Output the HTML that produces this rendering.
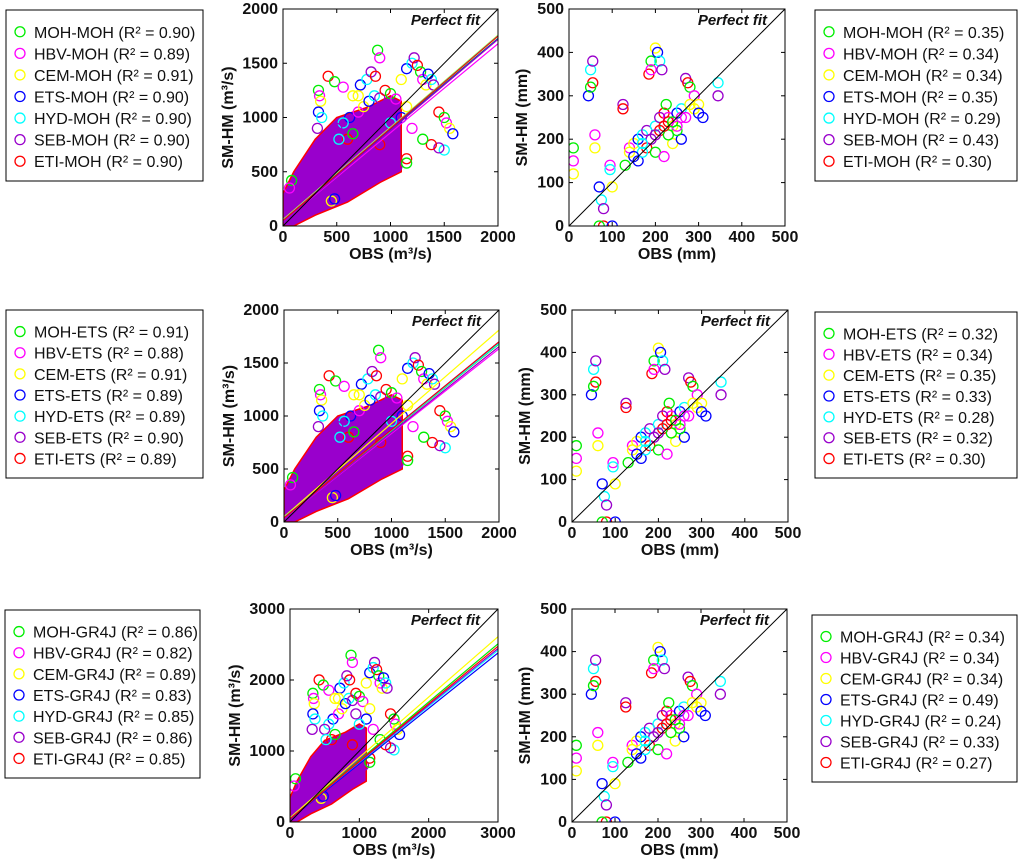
<!DOCTYPE html>
<html><head><meta charset="utf-8">
<style>
body{margin:0;background:#fff;}
svg{display:block;font-family:"Liberation Sans",Arial,sans-serif;}
.t{font-size:16px;font-weight:bold;fill:#111;}
.lg{font-size:16px;fill:#111;}
</style></head>
<body>
<svg id="fig" width="1024" height="867" viewBox="0 0 1024 867"></svg>
<script>
const colors=['#00ee00','#ff00ff','#ffff00','#0000ff','#00ffff','#9900cc','#ff0000'];
const models=['MOH','HBV','CEM','ETS','HYD','SEB','ETI'];
const refs=['MOH','ETS','GR4J'];
const r2Flow=[[0.90,0.89,0.91,0.90,0.90,0.90,0.90],[0.91,0.88,0.91,0.89,0.89,0.90,0.89],[0.86,0.82,0.89,0.83,0.85,0.86,0.85]];
const r2Depth=[[0.35,0.34,0.34,0.35,0.29,0.43,0.30],[0.32,0.34,0.35,0.33,0.28,0.32,0.30],[0.34,0.34,0.34,0.49,0.24,0.33,0.27]];
const flowMax=[2000,2000,3000];
const flowTicks=[[0,500,1000,1500,2000],[0,500,1000,1500,2000],[0,1000,2000,3000]];
const depthTicks=[0,100,200,300,400,500];
const fitSlope=[[0.84,0.82,0.85,0.84,0.85,0.84,0.85],[0.82,0.80,0.88,0.83,0.82,0.81,0.83],[0.82,0.80,0.85,0.78,0.79,0.80,0.81]];
const fitInt=[[50,40,60,45,55,40,50],[40,35,50,40,45,35,40],[50,40,60,40,50,45,45]];
const cloudX=[0,0,100,300,500,800,1000,1100,1100,900,600,300,100];
const cloudY=[0,300,500,800,1000,1100,1200,1150,500,400,220,100,0];
const flowX=[330,340,350,330,360,320,420,480,560,650,720,780,820,860,880,900,700,620,560,500,600,650,700,750,800,850,900,950,1000,1050,1100,1150,1200,1220,1250,1280,1300,1330,1350,1380,1400,1450,1500,1520,1550,1580,1500,1450,1380,1300,1200,1150,1100,1000,950,900,80,60,450,480,520,1060,1150,1150];
const flowY=[1250,1200,1150,1050,1000,900,1380,1330,1280,1200,1300,1350,1420,1380,1620,1550,1200,1000,950,900,800,850,1050,1100,1150,1200,1180,1250,1220,1170,1350,1450,1500,1550,1480,1420,1350,1300,1400,1350,1300,1050,1000,950,900,850,700,720,750,800,900,1100,1000,950,1050,750,420,350,230,250,800,550,620,580];
const depX=[10,10,10,45,50,55,55,50,60,60,70,75,80,80,70,95,100,100,95,125,125,130,140,150,160,170,180,185,190,190,200,205,210,215,220,225,230,240,250,260,270,275,280,290,300,310,345,345,180,200,220,240,260,200,210,230,250,270,290,160,170,190,210,230,250,140,150,170,200,220,240,260,280,300];
const depY=[180,150,120,300,360,380,330,320,210,180,90,60,40,0,0,140,90,0,130,280,270,140,180,190,200,210,220,350,380,360,410,400,380,360,260,280,250,230,260,270,340,330,320,300,280,250,330,300,180,170,160,190,200,230,250,240,220,250,270,150,170,200,220,210,230,170,160,190,210,230,240,250,280,260];

const NS='http://www.w3.org/2000/svg';
const svg=document.getElementById('fig');
function el(tag,attrs,parent,txt){const e=document.createElementNS(NS,tag);for(const k in attrs)e.setAttribute(k,attrs[k]);if(txt!==undefined)e.textContent=txt;(parent||svg).appendChild(e);return e;}

function panel(row,kind,px,py,pw,ph){
  const g=el('g',{});
  
  
  const xmax=kind==='flow'?flowMax[row]:500, ymax=xmax;
  const sx=v=>px+v/xmax*pw, sy=v=>py+ph-v/ymax*ph;
  const clip='c'+kind+row;
  const d=el('defs',{},g);const cp=el('clipPath',{id:clip},d);el('rect',{x:px,y:py,width:pw,height:ph},cp);
  const pg=el('g',{'clip-path':'url(#'+clip+')'},g);
  if(kind==='flow'){
    const cy=row===2?1.15:1, oy=row===2?1.45:1;
    let pts=cloudX.map((x,i)=>sx(x)+','+sy(cloudY[i]*cy)).join(' ');
    const poly=el('polygon',{points:pts,fill:'#9900cc',stroke:'#ff0000','stroke-width':1.5},pg);
    
    
    flowX.forEach((x,i)=>{
      const c=el('circle',{cx:sx(x),cy:sy(flowY[i]*oy),r:5,fill:'none',stroke:colors[i%7],'stroke-width':1.3},pg);
      
      
    });
  } else {
    depX.forEach((x,i)=>{
      const c=el('circle',{cx:sx(x),cy:sy(depY[i]),r:5,fill:'none',stroke:colors[i%7],'stroke-width':1.3},pg);
      
      
    });
  }
  if(kind==='flow'){
    fitSlope[row].forEach((s,i)=>{
      const b=fitInt[row][i];
      const l=el('line',{x1:sx(0),y1:sy(b),x2:sx(xmax),y2:sy(b+s*xmax),stroke:colors[i],'stroke-width':1.2},pg);
      
      
    });
  }
  const pf=el('line',{x1:sx(0),y1:sy(0),x2:sx(xmax),y2:sy(ymax),stroke:'#000','stroke-width':1},g);
  
  
  const fr=el('rect',{x:px,y:py,width:pw,height:ph,fill:'none',stroke:'#000','stroke-width':1},g);
  
  
  const pt=el('text',{x:px+pw-18,y:py+16,'text-anchor':'end','font-size':15,'font-weight':'bold','font-style':'italic',fill:'#111'},g,'Perfect fit');
  
  
  const ticks=kind==='flow'?flowTicks[row]:depthTicks;
  ticks.forEach(t=>{
    el('line',{x1:sx(t),y1:py+ph,x2:sx(t),y2:py+ph-4,stroke:'#000'},g);
    el('line',{x1:sx(t),y1:py,x2:sx(t),y2:py+4,stroke:'#000'},g);
    el('line',{x1:px,y1:sy(t),x2:px+4,y2:sy(t),stroke:'#000'},g);
    el('line',{x1:px+pw,y1:sy(t),x2:px+pw-4,y2:sy(t),stroke:'#000'},g);
    const xt=el('text',{x:sx(t),y:py+ph+16,'text-anchor':'middle',class:'t'},g,t);
    
    
    const yt=el('text',{x:px-5,y:sy(t)+5,'text-anchor':'end',class:'t'},g,t);
    
    
  });
  const unit=kind==='flow'?'(m³/s)':'(mm)';
  const xl=el('text',{x:px+pw/2,y:py+ph+33,'text-anchor':'middle',class:'t'},g,'OBS '+unit);
  
  
  const yx=px-(kind==='flow'?50:42), yy=py+ph/2;
  const yl=el('text',{x:yx,y:yy,'text-anchor':'middle',class:'t',transform:'rotate(-90 '+yx+' '+yy+')'},g,'SM-HM '+unit);
  
  
}

function legend(row,kind,lx,ly,lw,lh){
  const g=el('g',{});
  
  
  el('rect',{x:lx,y:ly,width:lw,height:lh,fill:'#fff',stroke:'#000','stroke-width':1},g);
  const vals=kind==='flow'?r2Flow[row]:r2Depth[row];
  const step=(lh-20)/7;
  models.forEach((m,i)=>{
    const cy=ly+13+step*i+step/2-2;
    const c=el('circle',{cx:lx+14,cy:cy,r:5,fill:'none',stroke:colors[i],'stroke-width':1.3},g);
    
    
    const t=el('text',{x:lx+28,y:cy+6,class:'lg'},g,m+'-'+refs[row]+' (R² = '+vals[i].toFixed(2)+')');
    
    
  });
}

const rowsY=[[9,217],[310,212],[609,213]];
const flowPX=[[283,215],[284,215],[290,208]];
const depPX=[[569,216],[572,216],[572,215]];
const legL=[[6,10,197,171],[6,310,197,168],[5,610,195,168]];
const legR=[[815,10,202,171],[815,312,202,166],[812,615,205,167]];
for(let r=0;r<3;r++){
  panel(r,'flow',flowPX[r][0],rowsY[r][0],flowPX[r][1],rowsY[r][1]);
  panel(r,'depth',depPX[r][0],rowsY[r][0],depPX[r][1],rowsY[r][1]);
  legend(r,'flow',...legL[r]);
  legend(r,'depth',...legR[r]);
}
</script>
</body></html>
